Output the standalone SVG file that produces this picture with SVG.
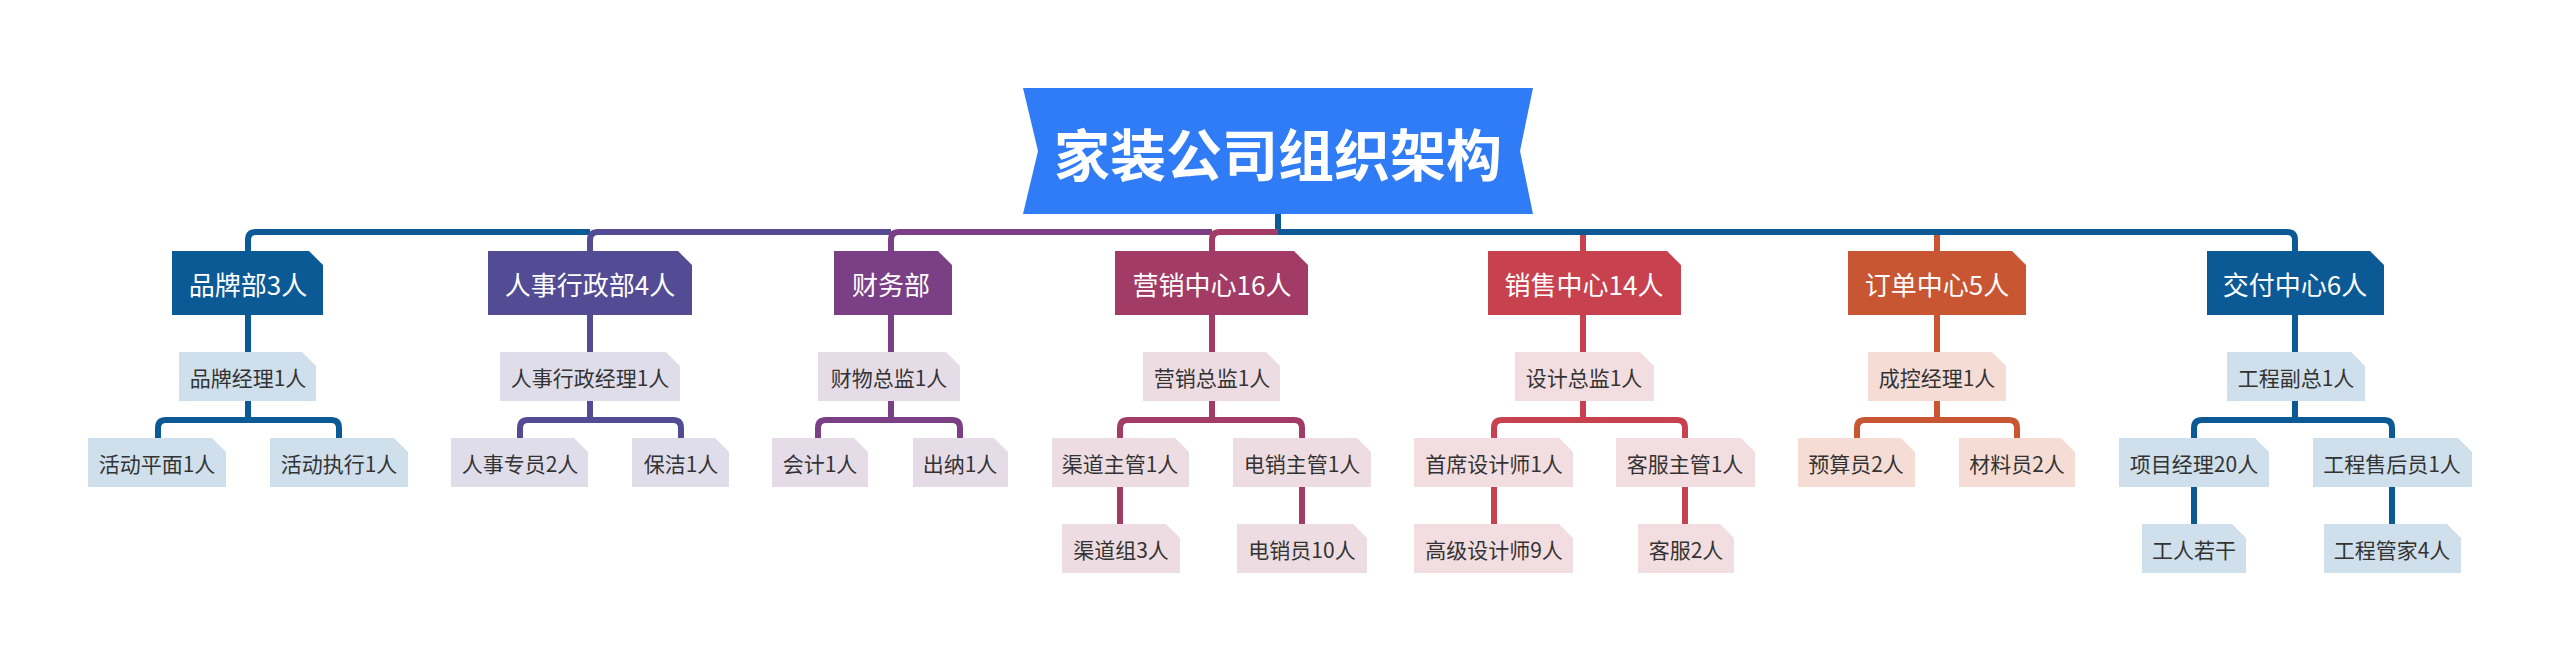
<svg xmlns="http://www.w3.org/2000/svg" width="2560" height="662" viewBox="0 0 2560 662">
<style>
text{font-family:"Noto Sans CJK SC","Noto Sans",sans-serif;text-anchor:middle;dominant-baseline:central}
.d{font-size:26px;fill:#fff}
.s{font-size:21px;fill:#333}
.ln{fill:none;stroke-width:6;stroke-linejoin:round}
.c1{stroke:#0B5A96}.f1{fill:#0B5A96}.l1{fill:#CFE0EC}
.c2{stroke:#534B93}.f2{fill:#534B93}.l2{fill:#DFDDEA}
.c3{stroke:#7A3F85}.f3{fill:#7A3F85}.l3{fill:#E6DCE8}
.c4{stroke:#A23C66}.f4{fill:#A23C66}.l4{fill:#EDDDE3}
.c5{stroke:#C8414F}.f5{fill:#C8414F}.l5{fill:#F2DDE0}
.c6{stroke:#C95633}.f6{fill:#C95633}.l6{fill:#F5DDD6}
</style>
<rect width="2560" height="662" fill="#fff"/>
<g id="connectors">
<path class="ln c1" d="M1278,214 V232"/>
<path class="ln c1" d="M248,251 V240 Q248,232 256,232 H590"/>
<path class="ln c2" d="M590,251 V240 Q590,232 598,232 H891"/>
<path class="ln c3" d="M891,251 V240 Q891,232 899,232 H1212"/>
<path class="ln c4" d="M1212,251 V240 Q1212,232 1220,232 H1278"/>
<path class="ln c1" d="M1278,232 H2287 Q2295,232 2295,240 V251"/>
<path class="ln c5" d="M1583,235 V251"/>
<path class="ln c6" d="M1937,235 V251"/>
<path class="ln c1" d="M248,315 V352 M248,401 V420 M158,438 V428 Q158,420 166,420 H331 Q339,420 339,428 V438"/>
<path class="ln c2" d="M590,315 V352 M590,401 V420 M520,438 V428 Q520,420 528,420 H673 Q681,420 681,428 V438"/>
<path class="ln c3" d="M891,315 V352 M891,401 V420 M818,438 V428 Q818,420 826,420 H952 Q960,420 960,428 V438"/>
<path class="ln c4" d="M1212,315 V352 M1212,401 V420 M1120,438 V428 Q1120,420 1128,420 H1294 Q1302,420 1302,428 V438 M1120,487 V524 M1302,487 V524"/>
<path class="ln c5" d="M1583,315 V352 M1583,401 V420 M1494,438 V428 Q1494,420 1502,420 H1677 Q1685,420 1685,428 V438 M1494,487 V524 M1685,487 V524"/>
<path class="ln c6" d="M1937,315 V352 M1937,401 V420 M1857,438 V428 Q1857,420 1865,420 H2009 Q2017,420 2017,428 V438"/>
<path class="ln c1" d="M2295,315 V352 M2295,401 V420 M2194,438 V428 Q2194,420 2202,420 H2384 Q2392,420 2392,428 V438 M2194,487 V524 M2392,487 V524"/>
</g>
<g id="title">
<polygon points="1023,88 1533,88 1520,151 1533,214 1023,214 1038,151" fill="#2F7CF6"/>
<text x="1278" y="151" style="font-size:56px;font-weight:bold;fill:#fff">家装公司组织架构</text>
</g>
<g id="brand">
<polygon class="f1" points="172,251 309,251 323,265 323,315 172,315"/><text class="d" x="248" y="283">品牌部3人</text>
<polygon class="l1" points="179,352 302,352 316,366 316,401 179,401"/><text class="s" x="248" y="377">品牌经理1人</text>
<polygon class="l1" points="88,438 212,438 226,452 226,487 88,487"/><text class="s" x="157" y="463">活动平面1人</text>
<polygon class="l1" points="270,438 394,438 408,452 408,487 270,487"/><text class="s" x="339" y="463">活动执行1人</text>
</g>
<g id="hr">
<polygon class="f2" points="488,251 678,251 692,265 692,315 488,315"/><text class="d" x="590" y="283">人事行政部4人</text>
<polygon class="l2" points="500,352 666,352 680,366 680,401 500,401"/><text class="s" x="590" y="377">人事行政经理1人</text>
<polygon class="l2" points="451,438 574,438 588,452 588,487 451,487"/><text class="s" x="520" y="463">人事专员2人</text>
<polygon class="l2" points="632,438 715,438 729,452 729,487 632,487"/><text class="s" x="681" y="463">保洁1人</text>
</g>
<g id="finance">
<polygon class="f3" points="834,251 938,251 952,265 952,315 834,315"/><text class="d" x="891" y="283">财务部</text>
<polygon class="l3" points="818,352 946,352 960,366 960,401 818,401"/><text class="s" x="889" y="377">财物总监1人</text>
<polygon class="l3" points="772,438 854,438 868,452 868,487 772,487"/><text class="s" x="820" y="463">会计1人</text>
<polygon class="l3" points="913,438 994,438 1008,452 1008,487 913,487"/><text class="s" x="960" y="463">出纳1人</text>
</g>
<g id="marketing">
<polygon class="f4" points="1115,251 1294,251 1308,265 1308,315 1115,315"/><text class="d" x="1212" y="283">营销中心16人</text>
<polygon class="l4" points="1143,352 1266,352 1280,366 1280,401 1143,401"/><text class="s" x="1212" y="377">营销总监1人</text>
<polygon class="l4" points="1052,438 1175,438 1189,452 1189,487 1052,487"/><text class="s" x="1120" y="463">渠道主管1人</text>
<polygon class="l4" points="1233,438 1357,438 1371,452 1371,487 1233,487"/><text class="s" x="1302" y="463">电销主管1人</text>
<polygon class="l4" points="1062,524 1166,524 1180,538 1180,573 1062,573"/><text class="s" x="1121" y="549">渠道组3人</text>
<polygon class="l4" points="1237,524 1353,524 1367,538 1367,573 1237,573"/><text class="s" x="1302" y="549">电销员10人</text>
</g>
<g id="sales">
<polygon class="f5" points="1488,251 1667,251 1681,265 1681,315 1488,315"/><text class="d" x="1584" y="283">销售中心14人</text>
<polygon class="l5" points="1515,352 1640,352 1654,366 1654,401 1515,401"/><text class="s" x="1584" y="377">设计总监1人</text>
<polygon class="l5" points="1414,438 1559,438 1573,452 1573,487 1414,487"/><text class="s" x="1494" y="463">首席设计师1人</text>
<polygon class="l5" points="1616,438 1741,438 1755,452 1755,487 1616,487"/><text class="s" x="1685" y="463">客服主管1人</text>
<polygon class="l5" points="1414,524 1559,524 1573,538 1573,573 1414,573"/><text class="s" x="1494" y="549">高级设计师9人</text>
<polygon class="l5" points="1638,524 1720,524 1734,538 1734,573 1638,573"/><text class="s" x="1686" y="549">客服2人</text>
</g>
<g id="order">
<polygon class="f6" points="1848,251 2012,251 2026,265 2026,315 1848,315"/><text class="d" x="1937" y="283">订单中心5人</text>
<polygon class="l6" points="1868,352 1992,352 2006,366 2006,401 1868,401"/><text class="s" x="1937" y="377">成控经理1人</text>
<polygon class="l6" points="1798,438 1901,438 1915,452 1915,487 1798,487"/><text class="s" x="1856" y="463">预算员2人</text>
<polygon class="l6" points="1959,438 2061,438 2075,452 2075,487 1959,487"/><text class="s" x="2017" y="463">材料员2人</text>
</g>
<g id="delivery">
<polygon class="f1" points="2207,251 2370,251 2384,265 2384,315 2207,315"/><text class="d" x="2295" y="283">交付中心6人</text>
<polygon class="l1" points="2227,352 2351,352 2365,366 2365,401 2227,401"/><text class="s" x="2296" y="377">工程副总1人</text>
<polygon class="l1" points="2119,438 2255,438 2269,452 2269,487 2119,487"/><text class="s" x="2194" y="463">项目经理20人</text>
<polygon class="l1" points="2313,438 2458,438 2472,452 2472,487 2313,487"/><text class="s" x="2392" y="463">工程售后员1人</text>
<polygon class="l1" points="2142,524 2232,524 2246,538 2246,573 2142,573"/><text class="s" x="2194" y="549">工人若干</text>
<polygon class="l1" points="2324,524 2447,524 2461,538 2461,573 2324,573"/><text class="s" x="2392" y="549">工程管家4人</text>
</g>
</svg>
